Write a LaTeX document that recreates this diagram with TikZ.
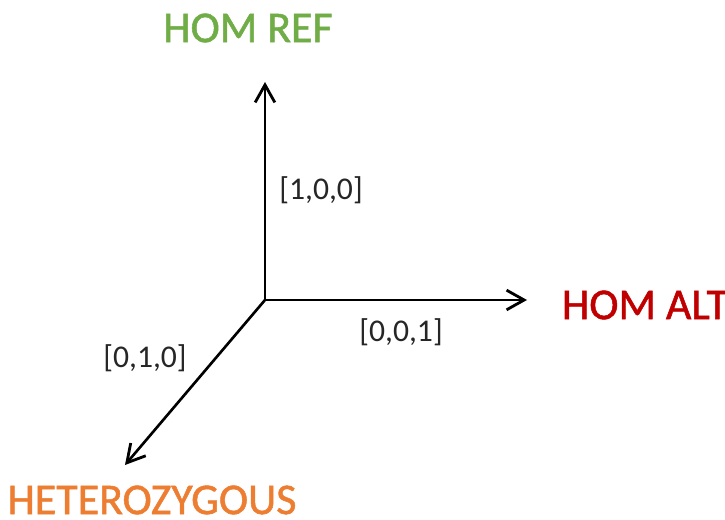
\documentclass[tikz,border=0pt]{standalone}
\usepackage{fontspec}
\setmainfont{Carlito}
\usetikzlibrary{arrows.meta}
\definecolor{verde}{HTML}{70AD47}
\definecolor{rojo}{HTML}{C00000}
\definecolor{naranja}{HTML}{ED7D31}
\definecolor{tinta}{HTML}{262626}
\begin{document}
\begin{tikzpicture}[
	eje/.style={line width=.75pt,-{Straight Barb[length=5pt,width=5.6pt,line width=.8pt]}},
	estado/.style={font=\fontsize{12.5}{14}\selectfont\addfontfeature{FakeBold=1.2}},
	vector/.style={font=\fontsize{9}{11}\selectfont,text=tinta}]
			\useasboundingbox (-2.65,-2.2) rectangle (4.6,3.0);
			%Ejes%
			\coordinate (O) at (0,0);
			\coordinate (ref) at (0,2.18);
			\coordinate (alt) at (2.62,0);
			\coordinate (het) at (-1.40,-1.65);
			\draw [eje] (O)--(ref);
			\draw [eje] (O)--(alt);
			\draw [eje] (O)--(het);
			%Estados%
			\node [estado, text=verde] (homref) at (-0.17,2.72) {HOM REF};
			\node [estado, text=rojo] (homalt) at (3.80,-0.05) {HOM ALT};
			\node [estado, text=naranja] (hetero) at (-1.13,-2.0) {HETEROZYGOUS};
			%Vectores%
			\node [vector] (v100) at (0.56,1.1) {[1,0,0]};
			\node [vector] (v001) at (1.36,-0.32) {[0,0,1]};
			\node [vector] (v010) at (-1.2,-0.58) {[0,1,0]};
			\end{tikzpicture}
\end{document}
